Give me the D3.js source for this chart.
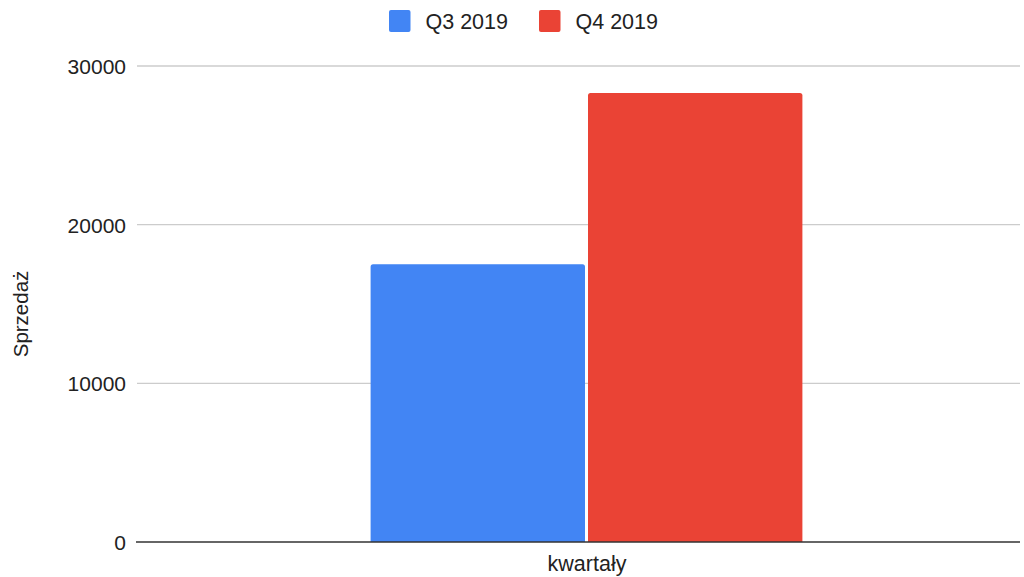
<!DOCTYPE html>
<html><head><meta charset="utf-8">
<script src="https://cdn.jsdelivr.net/npm/d3@7"></script>
<style>body{margin:0;background:#fff}svg{display:block}text{font-family:Arial,"Liberation Sans",sans-serif;fill:#222}</style>
</head><body><svg id="c" width="1024" height="577"></svg>
<script>
const categories = ["kwartały"];
const seriesNames = ["Q3 2019", "Q4 2019"];
const seriesValues = [17500, 28300];
const seriesColors = ["#4285F4", "#EA4335"];
const yTicks = [0, 10000, 20000, 30000];

(function () {
const svg = d3.select("#c");
const plotLeft = 137, plotRight = 1020, plotTop = 66, plotBottom = 542;
const FONT = 'Arial,"Liberation Sans",sans-serif';

const y = d3.scaleLinear().domain([0, 30000]).range([plotBottom, plotTop]);
const x0 = d3.scaleBand().domain(categories).range([137, 1036]).paddingInner(0).paddingOuter(0.541);
const x1 = d3.scaleBand().domain(seriesNames).range([0, x0.bandwidth()]);

// gridlines
svg.append("g").selectAll("line").data(yTicks.filter(d => d !== 0)).join("line")
  .attr("x1", plotLeft).attr("x2", plotRight)
  .attr("y1", d => y(d)).attr("y2", d => y(d))
  .attr("stroke", "#cccccc").attr("stroke-width", 1.3);

// y tick labels
const yAxis = d3.axisLeft(y).tickValues(yTicks).tickSize(0).tickPadding(0).tickFormat(d3.format("d"));
const ga = svg.append("g").attr("transform", `translate(126,0)`).call(yAxis);
ga.select(".domain").remove();
ga.selectAll("text").attr("font-size", 21).attr("fill", "#222").attr("dy", "0.35em").style("font-family", FONT);

// bars with rounded top corners
function barPath(x, yTop, w, yBot, r) {
  const p = d3.path();
  p.moveTo(x, yBot);
  p.lineTo(x, yTop + r);
  p.quadraticCurveTo(x, yTop, x + r, yTop);
  p.lineTo(x + w - r, yTop);
  p.quadraticCurveTo(x + w, yTop, x + w, yTop + r);
  p.lineTo(x + w, yBot);
  p.closePath();
  return p.toString();
}
const bars = seriesNames.map((s, i) => ({s, v: seriesValues[i], c: seriesColors[i]}));
svg.append("g").selectAll("path").data(bars).join("path")
  .attr("d", d => barPath(x0(categories[0]) + x1(d.s) + (d.s === seriesNames[0] ? 0 : 1.5), y(d.v), x1.bandwidth() - 1.5, y(0), 2.5))
  .attr("fill", d => d.c);

// baseline
svg.append("line").attr("x1", plotLeft - 1).attr("x2", plotRight).attr("y1", y(0)).attr("y2", y(0))
  .attr("stroke", "#333").attr("stroke-width", 1.5);

// x axis category title
svg.append("text").attr("x", 587).attr("y", 571).attr("text-anchor", "middle").attr("font-size", 21.5).text(categories[0]);

// y axis title
svg.append("text").attr("transform", "translate(28,314) rotate(-90)").attr("text-anchor", "middle").attr("font-size", 20.5).text("Sprzedaż");

// legend
const legendX = [389, 539];
const lg = svg.append("g").selectAll("g").data(bars).join("g")
  .attr("transform", (d, i) => `translate(${legendX[i]},10)`);
lg.append("rect").attr("width", 21.5).attr("height", 22).attr("rx", 2).attr("fill", d => d.c);
lg.append("text").attr("x", 36.5).attr("y", 18.5).attr("font-size", 21.5).text(d => d.s);
})();
</script></body></html>
